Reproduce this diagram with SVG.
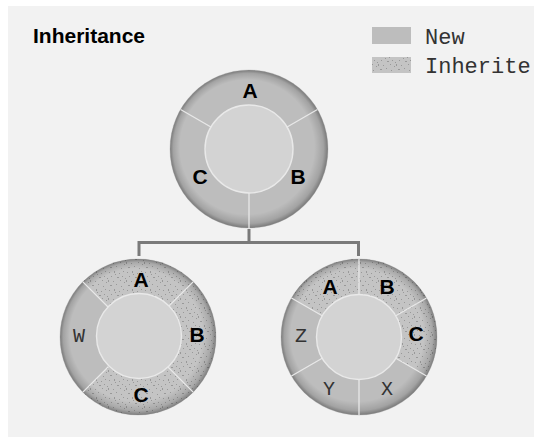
<svg xmlns="http://www.w3.org/2000/svg" width="534" height="437" viewBox="0 0 534 437">
  <style>
    .ring { fill: #bdbdbd; stroke: #d0d0d0; stroke-width: 0.8; }
    .inherited { fill: url(#stipple); }
    .shade { fill: url(#rimShade); }
    .core { fill: #d3d3d3; stroke: #e9e9e9; stroke-width: 1.4; }
    .divider { stroke: #e8e8e8; stroke-width: 1.3; fill: none; }
    .bold { font-family: "Liberation Sans", Arial, sans-serif; font-weight: bold; font-size: 21px; fill: #000; text-anchor: middle; }
    .mono { font-family: "Liberation Mono", "Courier New", monospace; font-size: 20px; fill: #333; text-anchor: middle; }
    .legend-text { font-family: "Liberation Mono", "Courier New", monospace; font-size: 22px; fill: #333; }
    .title { font-family: "Liberation Sans", Arial, sans-serif; font-weight: bold; font-size: 21px; fill: #000; }
    .link { stroke: #7a7a7a; stroke-width: 3; fill: none; }
  </style>
  <defs>
    <!-- speckled fill for inherited segments -->
    <pattern id="stipple" width="18" height="18" patternUnits="userSpaceOnUse">
      <rect width="18" height="18" fill="#c4c4c4"/>
      <g fill="#999">
        <rect x="1" y="2" width="1" height="1"/>
        <rect x="6" y="1" width="1" height="2"/>
        <rect x="11" y="3" width="1" height="1"/>
        <rect x="15" y="1" width="1" height="1"/>
        <rect x="3" y="6" width="1" height="1"/>
        <rect x="9" y="7" width="2" height="1"/>
        <rect x="14" y="6" width="1" height="1"/>
        <rect x="0" y="10" width="1" height="2"/>
        <rect x="5" y="11" width="1" height="1"/>
        <rect x="12" y="10" width="1" height="1"/>
        <rect x="16" y="12" width="1" height="1"/>
        <rect x="2" y="15" width="2" height="1"/>
        <rect x="8" y="14" width="1" height="1"/>
        <rect x="13" y="16" width="1" height="1"/>
        <rect x="17" y="8" width="1" height="1"/>
        <rect x="7" y="4" width="1" height="1"/>
      </g>
    </pattern>
    <!-- darker rim on the lower right of each disk -->
    <radialGradient id="rimShade" cx="0.5" cy="0.5" r="0.5" fx="0.42" fy="0.42">
      <stop offset="0.85" stop-color="#000" stop-opacity="0"/>
      <stop offset="0.95" stop-color="#000" stop-opacity="0.14"/>
      <stop offset="1" stop-color="#000" stop-opacity="0.36"/>
    </radialGradient>
  </defs>

  <rect x="8" y="6" width="526" height="431" fill="#f2f2f2"/>

  <text class="title" x="33" y="43">Inheritance</text>

  <g id="legend">
    <rect x="372" y="27" width="39" height="17" fill="#bdbdbd"/>
    <text class="legend-text" x="425" y="44">New</text>
    <rect x="372" y="57" width="39" height="16" fill="url(#stipple)"/>
    <text class="legend-text" x="425" y="73">Inherite</text>
  </g>

  <g id="connectors">
    <path class="link" d="M249,229 V242.5 M139,256 V242.5 H358.5 V256"/>
  </g>

  <!-- base class: three new members -->
  <g id="node-base">
    <circle class="ring" cx="249" cy="149" r="79"/>
    <circle class="shade" cx="249" cy="149" r="79"/>
    <path class="divider" d="M317.4,109.5 L287.1,127 M180.6,109.5 L210.9,127 M249,228 L249,193"/>
    <circle class="core" cx="249" cy="149" r="44"/>
    <text class="bold" x="250" y="98">A</text>
    <text class="bold" x="298" y="184">B</text>
    <text class="bold" x="200" y="184">C</text>
  </g>

  <!-- derived class: inherits A, B, C and adds W -->
  <g id="node-left">
    <circle class="ring" cx="138" cy="337" r="78"/>
    <path class="inherited" d="M82.85,281.85 A78,78 0 1 1 82.85,392.15 L108.3,366.7 A42,42 0 1 0 108.3,307.3 Z"/>
    <circle class="shade" cx="138" cy="337" r="78"/>
    <path class="divider" d="M82.85,281.85 L108.3,307.3 M193.15,281.85 L167.7,307.3 M193.15,392.15 L167.7,366.7 M82.85,392.15 L108.3,366.7"/>
    <circle class="core" cx="139" cy="336" r="42.5"/>
    <text class="bold" x="141" y="287">A</text>
    <text class="bold" x="197" y="342">B</text>
    <text class="bold" x="141" y="402">C</text>
    <text class="mono" x="79" y="342">W</text>
  </g>

  <!-- derived class: inherits A, B, C and adds X, Y, Z -->
  <g id="node-right">
    <circle class="ring" cx="359" cy="337" r="78"/>
    <path class="inherited" d="M291.45,298 A78,78 0 0 1 426.55,376 L395.37,358 A42,42 0 0 0 322.63,316 Z"/>
    <circle class="shade" cx="359" cy="337" r="78"/>
    <path class="divider" d="M291.45,298 L322.63,316 M359,259 L359,295 M426.55,298 L395.37,316 M426.55,376 L395.37,358 M359,415 L359,379 M291.45,376 L322.63,358"/>
    <circle class="core" cx="359" cy="337" r="42.5"/>
    <text class="bold" x="330" y="294">A</text>
    <text class="bold" x="387" y="294">B</text>
    <text class="bold" x="416" y="341">C</text>
    <text class="mono" x="301" y="342">Z</text>
    <text class="mono" x="329" y="395">Y</text>
    <text class="mono" x="387" y="395">X</text>
  </g>
</svg>
